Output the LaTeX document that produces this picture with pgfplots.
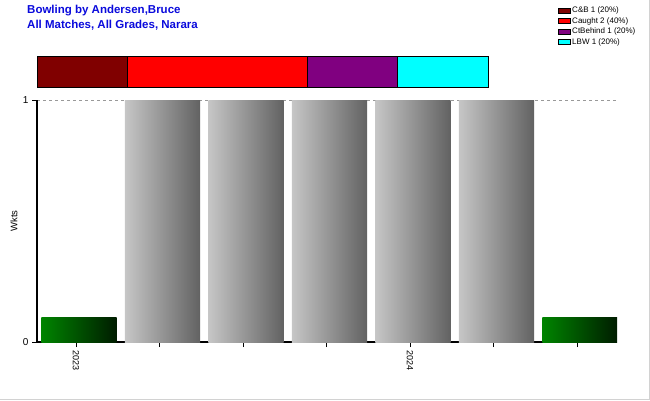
\documentclass[border=0pt]{standalone}
\usepackage{fontspec}
\setmainfont{Liberation Sans}
\usepackage{pgfplots}
\pgfplotsset{compat=1.18}
\definecolor{titleblue}{RGB}{10,10,220}
\definecolor{cb}{RGB}{128,0,0}
\definecolor{caught}{RGB}{255,0,0}
\definecolor{ctb}{RGB}{128,0,128}
\definecolor{lbw}{RGB}{0,255,255}
\definecolor{grayL}{RGB}{198,198,198}
\definecolor{grayR}{RGB}{98,98,98}
\definecolor{greenL}{RGB}{0,132,0}
\definecolor{greenR}{RGB}{0,28,0}
\begin{document}
\begin{tikzpicture}[x=1pt,y=1pt]
\path[use as bounding box] (0,0) rectangle (650,400);
\draw[gray!35, line width=1pt] (649.5,0) -- (649.5,400);
\draw[gray!35, line width=1pt] (0,0.5) -- (650,0.5);
\node[anchor=north west, align=left, font=\bfseries\fontsize{11.5}{15}\selectfont, text=titleblue, inner sep=0pt] at (27,395) {Bowling by Andersen,Bruce\\All Matches, All Grades, Narara};

\begin{axis}[
  at={(37pt,58pt)}, anchor=south west,
  width=580pt, height=242pt, scale only axis,
  xmin=-0.467, xmax=6.48, ymin=0, ymax=1,
  axis x line*=bottom, axis y line*=left,
  axis line style={line width=1.8pt, -},
  xtick={0,...,6}, xticklabels={2023,,,,2024,,},
  xticklabel style={rotate=-90, anchor=west, font=\fontsize{9}{10}\selectfont},
  ytick={0,1},
  yticklabel style={font=\fontsize{10}{11}\selectfont},
  /pgf/number format/assume math mode=true,
  tick align=outside, major tick length=5pt,
  tick style={black, line width=0.5pt},
  ymajorgrids, grid style={dashed, gray!80, line width=0.6pt},
  ylabel={Wkts},
  ylabel style={at={(axis description cs:0,0.5)}, anchor=center, yshift=23pt, font=\fontsize{9.5}{11}\selectfont},
  bar width=0.9, bar shift=3pt,
]
\addplot[ybar, draw=none, left color=greenL, right color=greenR] coordinates {(0,0.1)};
\addplot[ybar, draw=none, left color=grayL, right color=grayR] coordinates {(1,1)};
\addplot[ybar, draw=none, left color=grayL, right color=grayR] coordinates {(2,1)};
\addplot[ybar, draw=none, left color=grayL, right color=grayR] coordinates {(3,1)};
\addplot[ybar, draw=none, left color=grayL, right color=grayR] coordinates {(4,1)};
\addplot[ybar, draw=none, left color=grayL, right color=grayR] coordinates {(5,1)};
\addplot[ybar, draw=none, left color=greenL, right color=greenR] coordinates {(6,0.1)};
\end{axis}

\begin{axis}[
  at={(37pt,313pt)}, anchor=south west,
  width=451pt, height=30pt, scale only axis,
  xbar stacked, xmin=0, xmax=100, ymin=-0.5, ymax=0.5,
  bar width=30pt, hide axis, clip=false,
  legend style={at={(axis description cs:1.1486,2.8)}, anchor=north west, draw=none, fill=none,
    font=\fontsize{8}{9}\selectfont, row sep=0.3pt, nodes={inner sep=1.5pt}},
  legend cell align=left,
  legend image code/.code={\draw[#1, draw=black, line width=0.5pt] (0pt,-2.5pt) rectangle (12pt,2.5pt);},
]
\addplot[fill=cb, draw=black, line width=1pt] coordinates {(20,0)};
\addplot[fill=caught, draw=black, line width=1pt] coordinates {(40,0)};
\addplot[fill=ctb, draw=black, line width=1pt] coordinates {(20,0)};
\addplot[fill=lbw, draw=black, line width=1pt] coordinates {(20,0)};
\legend{C\&B 1 (20\%), Caught 2 (40\%), CtBehind 1 (20\%), LBW 1 (20\%)}
\end{axis}
\end{tikzpicture}
\end{document}
